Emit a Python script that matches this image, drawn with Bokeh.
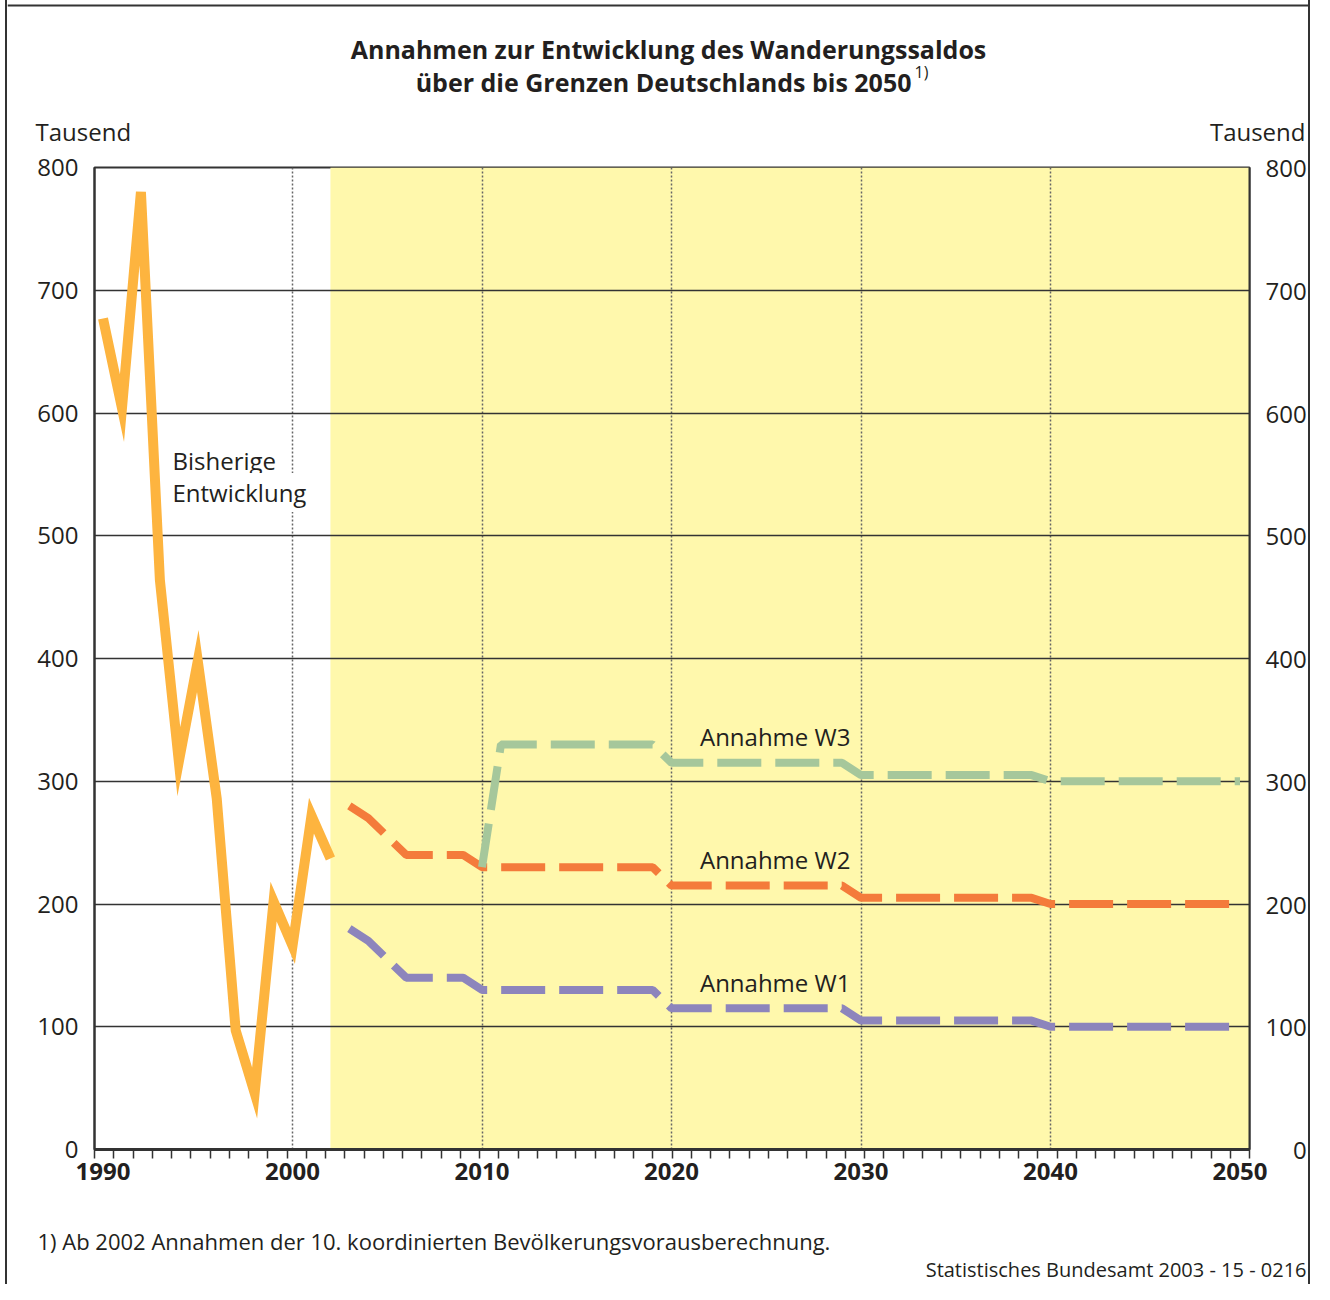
import numpy as np
from bokeh.plotting import figure
from bokeh.models import Range1d, FixedTicker, Label, BoxAnnotation, LinearAxis
from bokeh.embed import file_html
from bokeh.resources import INLINE
from bokeh.core.properties import value

# ---------------- data ----------------
hist_years = [1990, 1991, 1992, 1993, 1994, 1995, 1996, 1997, 1998, 1999, 2000, 2001, 2002]
hist_values = [677, 604, 780, 464, 316, 398, 286, 97, 46, 202, 166, 272, 237]

proj_years = [2003, 2004, 2006, 2009, 2010, 2019, 2020, 2029, 2030, 2039, 2040, 2050]
w1_values = [180, 170, 140, 140, 130, 130, 115, 115, 105, 105, 100, 100]
w2_values = [280, 270, 240, 240, 230, 230, 215, 215, 205, 205, 200, 200]

w3_years = [2010, 2011, 2019, 2020, 2029, 2030, 2039, 2040, 2050]
w3_values = [230, 330, 330, 315, 315, 305, 305, 300, 300]

projection_start = 2002
x_ticks = [1990, 2000, 2010, 2020, 2030, 2040, 2050]
x_dotted = [2000, 2010, 2020, 2030, 2040]
y_ticks = [0, 100, 200, 300, 400, 500, 600, 700, 800]

title_1 = "Annahmen zur Entwicklung des Wanderungssaldos"
title_2 = "über die Grenzen Deutschlands bis 2050"
title_note = "1)"
unit_label = "Tausend"
hist_label_1 = "Bisherige"
hist_label_2 = "Entwicklung"
scenario_names = ["Annahme W3", "Annahme W2", "Annahme W1"]
footnote = "1) Ab 2002 Annahmen der 10. koordinierten Bevölkerungsvorausberechnung."
source = "Statistisches Bundesamt 2003 - 15 - 0216"

# ---------------- style / layout ----------------
FONT = "Open Sans"
TXT = "#231f20"
FRAME = "#333333"
OX = 7                       # left margin (5px) + border (2px) of each block
W = 1314 - OX - 2            # canvas width
H_HEAD, H_MAIN, H_FOOT = 149, 1045, 90
X_LO, X_HI = 1989.55, 2050.5
BLOCK_STYLE = {"margin-left": "5px", "border-left": f"2px solid {FRAME}",
               "border-right": f"2px solid {FRAME}"}


def text_panel(height):
    f = figure(width=W, height=height, x_range=Range1d(0, W), y_range=Range1d(height, 0),
               output_backend="svg", toolbar_location=None, min_border=0,
               x_axis_type=None, y_axis_type=None, styles=BLOCK_STYLE)
    f.outline_line_color = None
    f.grid.visible = False
    f.background_fill_color = "white"
    f.border_fill_color = "white"
    return f


def put(f, x, y, txt, size, align="left", style="normal"):
    f.text(x=[x - OX], y=[y], text=[txt], text_align=align, text_baseline="alphabetic",
           text_font=value(FONT), text_font_size=size, text_font_style=style,
           text_color=TXT)


# ---------------- header ----------------
head = text_panel(H_HEAD)
head.segment(x0=[0], y0=[5], x1=[W], y1=[5], line_color=FRAME, line_width=2)
put(head, 668, 48, title_1, "25px", align="center", style="bold")
put(head, 911, 81, title_2, "25px", align="right", style="bold")
put(head, 914, 71, title_note, "16px")
put(head, 35, 131, unit_label, "24px")
put(head, 1305, 131, unit_label, "24px", align="right")

# ---------------- main chart ----------------
p = figure(width=W, height=H_MAIN, x_range=Range1d(X_LO, X_HI), y_range=Range1d(0, 800),
           output_backend="svg", toolbar_location=None, styles=BLOCK_STYLE,
           min_border_left=94 - OX, min_border_right=W - (94 - OX) - 1155,
           min_border_top=167 - H_HEAD, min_border_bottom=45)
p.background_fill_color = "white"
p.border_fill_color = "white"
p.outline_line_color = FRAME
p.outline_line_width = 2

p.add_layout(BoxAnnotation(left=projection_start, right=X_HI, bottom=0, top=800,
                           fill_color="#FFF8AC", fill_alpha=1, line_alpha=0, level="image"))

xa = p.xaxis[0]
xa.ticker = FixedTicker(ticks=x_ticks, minor_ticks=list(np.linspace(X_LO, X_HI, 61)))
xa.major_tick_out = 0
xa.major_tick_in = 0
xa.minor_tick_out = 9
xa.minor_tick_in = 0
xa.minor_tick_line_color = FRAME
xa.minor_tick_line_width = 1.5
xa.axis_line_width = 3
xa.axis_line_color = FRAME
xa.major_label_standoff = 4
xa.major_label_text_font = FONT
xa.major_label_text_font_style = "bold"
xa.major_label_text_font_size = "24px"
xa.major_label_text_color = TXT

ya = p.yaxis[0]
ya.ticker = FixedTicker(ticks=y_ticks)
ya.major_tick_out = 0
ya.major_tick_in = 0
ya.minor_tick_out = 0
ya.minor_tick_in = 0
ya.axis_line_width = 2
ya.axis_line_color = FRAME
ya.major_label_standoff = 16
ya.major_label_text_font = FONT
ya.major_label_text_font_size = "24px"
ya.major_label_text_color = TXT

ra = LinearAxis(ticker=FixedTicker(ticks=y_ticks),
                major_label_overrides={t: str(t).rjust(3, "\u2007") for t in y_ticks})
ra.major_tick_out = 0
ra.major_tick_in = 0
ra.minor_tick_out = 0
ra.minor_tick_in = 0
ra.axis_line_width = 2
ra.axis_line_color = FRAME
ra.major_label_standoff = 16
ra.major_label_text_font = FONT
ra.major_label_text_font_size = "24px"
ra.major_label_text_color = TXT
p.add_layout(ra, "right")

p.ygrid.ticker = FixedTicker(ticks=y_ticks)
p.ygrid.grid_line_color = FRAME
p.ygrid.grid_line_width = 1.5
p.xgrid.ticker = FixedTicker(ticks=x_dotted)
p.xgrid.grid_line_color = "#666666"
p.xgrid.grid_line_width = 1.5
p.xgrid.grid_line_dash = "2 2"

p.line(hist_years, hist_values, line_color="#FDB43F", line_width=10, line_join="miter")
p.line(proj_years, w2_values, line_color="#F47B3B", line_width=8, line_dash="44 14")
p.line(proj_years, w1_values, line_color="#8D85BC", line_width=8, line_dash="44 14")
p.line(w3_years, w3_values, line_color="#A6C79B", line_width=8, line_dash="44 14")

# history label (white background interrupts the dotted 2000 line)
for txt, yy in [(hist_label_1, 689), (hist_label_2, 657)]:
    p.add_layout(Label(x=75, y=yy, x_units="screen", y_units="screen", text=txt,
                       text_align="left", text_baseline="alphabetic",
                       text_font=FONT, text_font_size="24px", text_color=TXT,
                       background_fill_color="white", background_fill_alpha=1, padding=3))

for yv, name in zip([328, 228, 127.5], scenario_names):
    p.add_layout(Label(x=2021.5, y=yv, y_offset=10, text=name, text_align="left",
                       text_baseline="alphabetic", text_font=FONT,
                       text_font_size="24px", text_color=TXT))

# ---------------- footer ----------------
foot = text_panel(H_FOOT)
put(foot, 37, 46, footnote, "22px")
put(foot, 1306, 75, source, "20px", align="right")

open("out.html", "w").write(file_html((head, p, foot), INLINE))
